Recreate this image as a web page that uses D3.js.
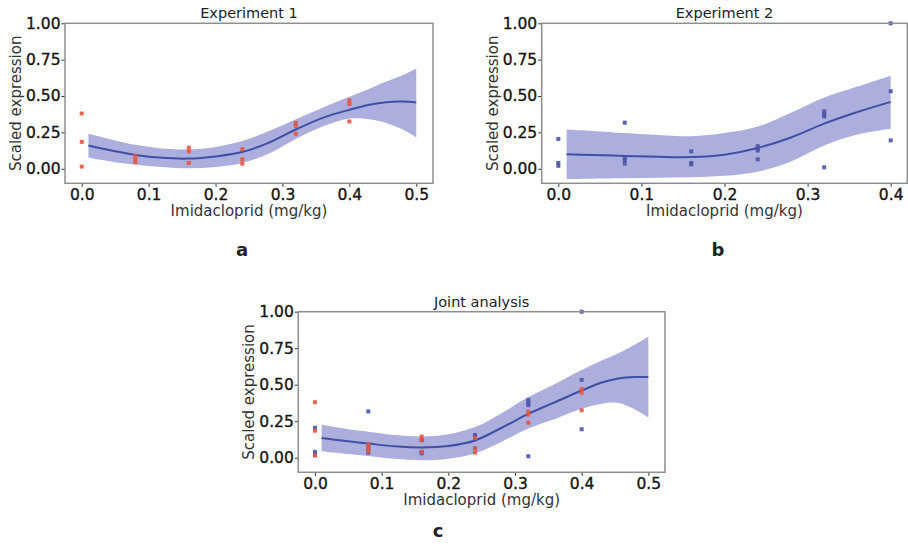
<!DOCTYPE html>
<html>
<head>
<meta charset="utf-8">
<script src="https://cdn.jsdelivr.net/npm/d3@7"></script>
<style>
  html, body { margin: 0; padding: 0; background: #fff; }
  svg { display: block; font-family: "DejaVu Sans", sans-serif; }
</style>
</head>
<body>
<svg id="chart" width="908" height="549"></svg>
<script>
// Dose levels (mg/kg) and measured expression, one list per dose
const doses = [0, 0.08, 0.16, 0.24, 0.32, 0.40];
const exp1Values = [
  [0.38, 0.185, 0.015],
  [0.09, 0.065, 0.045],
  [0.145, 0.12, 0.04],
  [0.135, 0.065, 0.035],
  [0.315, 0.295, 0.24],
  [0.47, 0.445, 0.325]
];
const exp2Values = [
  [0.205, 0.04, 0.02],
  [0.317, 0.075, 0.06, 0.035],
  [0.12, 0.04, 0.03],
  [0.155, 0.14, 0.125, 0.065],
  [0.395, 0.375, 0.36, 0.01],
  [1.0, 0.533, 0.195]
];

// Fitted curve with confidence band, Experiment 1
const fit1X     = [0.01, 0.05, 0.08, 0.12, 0.16, 0.20, 0.24, 0.28, 0.32, 0.36, 0.40, 0.43, 0.455, 0.48, 0.50];
const fit1Mean  = [0.16, 0.12, 0.095, 0.075, 0.07, 0.085, 0.115, 0.18, 0.27, 0.35, 0.405, 0.44, 0.458, 0.462, 0.455];
const fit1Lower = [0.075, 0.045, 0.03, 0.012, 0.003, 0.012, 0.04, 0.105, 0.205, 0.29, 0.345, 0.34, 0.315, 0.27, 0.215];
const fit1Upper = [0.24, 0.195, 0.165, 0.14, 0.132, 0.15, 0.19, 0.26, 0.34, 0.42, 0.495, 0.55, 0.60, 0.645, 0.69];

// Experiment 2
const fit2X     = [0.01, 0.04, 0.08, 0.12, 0.16, 0.20, 0.24, 0.28, 0.32, 0.36, 0.40];
const fit2Mean  = [0.10, 0.095, 0.088, 0.082, 0.08, 0.097, 0.143, 0.215, 0.31, 0.39, 0.46];
const fit2Lower = [-0.07, -0.068, -0.065, -0.062, -0.058, -0.048, -0.02, 0.05, 0.16, 0.235, 0.275];
const fit2Upper = [0.27, 0.26, 0.245, 0.232, 0.223, 0.245, 0.29, 0.385, 0.49, 0.565, 0.64];

// Joint analysis
const fit3X     = [0.01, 0.05, 0.08, 0.12, 0.16, 0.20, 0.24, 0.28, 0.32, 0.36, 0.40, 0.43, 0.455, 0.48, 0.50];
const fit3Mean  = [0.135, 0.112, 0.097, 0.078, 0.07, 0.08, 0.118, 0.205, 0.30, 0.38, 0.46, 0.515, 0.543, 0.553, 0.552];
const fit3Lower = [0.045, 0.025, 0.012, -0.008, -0.018, -0.008, 0.03, 0.11, 0.2, 0.265, 0.335, 0.37, 0.375, 0.33, 0.276];
const fit3Upper = [0.225, 0.195, 0.178, 0.155, 0.145, 0.16, 0.21, 0.305, 0.415, 0.505, 0.60, 0.665, 0.715, 0.775, 0.828];

const yTicks = [0, 0.25, 0.5, 0.75, 1.0];
const xTicksWide = [0, 0.1, 0.2, 0.3, 0.4, 0.5];
const xTicksNarrow = [0, 0.1, 0.2, 0.3, 0.4];

const RED = "#e5553f";
const BLUE = "#4a54a8";
const LINE = "#3f4fa3";
const BAND = "#acaedd";

const svg = d3.select("#chart");

function points(doseList, valueList) {
  const out = [];
  doseList.forEach((d, i) => valueList[i].forEach(v => out.push({ x: d, y: v })));
  return out;
}

function panel(cfg) {
  const g = svg.append("g");
  const x = d3.scaleLinear().domain(cfg.xDomain).range([cfg.left, cfg.right]);
  const y = d3.scaleLinear().domain([-0.1, 1.0]).range([cfg.bottom, cfg.top]);

  // confidence band
  const band = cfg.fitX.map((v, i) => ({ x: v, lo: cfg.lower[i], hi: cfg.upper[i], m: cfg.mean[i] }));
  g.append("path")
    .datum(band)
    .attr("fill", BAND)
    .attr("d", d3.area().x(d => x(d.x)).y0(d => y(d.lo)).y1(d => y(d.hi)).curve(d3.curveCatmullRom));

  g.append("path")
    .datum(band)
    .attr("fill", "none")
    .attr("stroke", LINE)
    .attr("stroke-width", 2)
    .attr("d", d3.line().x(d => x(d.x)).y(d => y(d.m)).curve(d3.curveCatmullRom));

  // observations
  cfg.series.forEach(s => {
    g.append("g").selectAll("rect")
      .data(points(doses, s.values))
      .join("rect")
      .attr("x", d => x(d.x) - 2)
      .attr("y", d => y(d.y) - 2)
      .attr("width", 4)
      .attr("height", 4)
      .attr("fill", s.color)
      .attr("opacity", 0.9);
  });

  // axes
  const ax = g.append("g")
    .attr("transform", `translate(0,${cfg.bottom})`)
    .call(d3.axisBottom(x).tickValues(cfg.xTicks).tickFormat(d3.format(".1f")).tickSize(3.5).tickPadding(2));
  const ay = g.append("g")
    .attr("transform", `translate(${cfg.left},0)`)
    .call(d3.axisLeft(y).tickValues(yTicks).tickFormat(d3.format(".2f")).tickSize(3.5).tickPadding(1));
  [ax, ay].forEach(a => {
    a.select(".domain").remove();
    a.selectAll(".tick line").attr("stroke", "#333");
    a.selectAll(".tick text")
      .attr("font-family", "DejaVu Sans, sans-serif")
      .attr("font-size", 15.5)
      .attr("fill", "#151515")
      .attr("stroke", "#151515")
      .attr("stroke-width", 0.35);
  });

  // frame
  g.append("rect")
    .attr("x", cfg.left).attr("y", cfg.top)
    .attr("width", cfg.right - cfg.left).attr("height", cfg.bottom - cfg.top)
    .attr("fill", "none").attr("stroke", "#8e8e8e").attr("stroke-width", 1.5);

  const cx = (cfg.left + cfg.right) / 2;
  g.append("text")
    .attr("x", cx).attr("y", cfg.top - 5)
    .attr("text-anchor", "middle").attr("font-size", 14.5).attr("fill", "#222")
    .text(cfg.title);
  g.append("text")
    .attr("x", cx).attr("y", cfg.bottom + 33)
    .attr("text-anchor", "middle").attr("font-size", 15).attr("fill", "#333")
    .text("Imidacloprid (mg/kg)");
  g.append("text")
    .attr("transform", `translate(${cfg.left - 44},${(cfg.top + cfg.bottom) / 2}) rotate(-90)`)
    .attr("text-anchor", "middle").attr("font-size", 15).attr("fill", "#333")
    .text("Scaled expression");
  g.append("text")
    .attr("x", cfg.letterX).attr("y", cfg.letterY)
    .attr("text-anchor", "middle").attr("font-size", 18).attr("font-weight", "bold").attr("fill", "#222")
    .text(cfg.letter);
}

panel({
  title: "Experiment 1", letter: "a", letterX: 242, letterY: 256,
  left: 65, right: 433, top: 23.3, bottom: 183.3,
  xDomain: [-0.025, 0.525], xTicks: xTicksWide,
  fitX: fit1X, mean: fit1Mean, lower: fit1Lower, upper: fit1Upper,
  series: [{ values: exp1Values, color: RED }]
});

panel({
  title: "Experiment 2", letter: "b", letterX: 718, letterY: 256,
  left: 541.7, right: 907.3, top: 23.3, bottom: 183.3,
  xDomain: [-0.02, 0.42], xTicks: xTicksNarrow,
  fitX: fit2X, mean: fit2Mean, lower: fit2Lower, upper: fit2Upper,
  series: [{ values: exp2Values, color: BLUE }]
});

panel({
  title: "Joint analysis", letter: "c", letterX: 438, letterY: 537,
  left: 298.3, right: 665, top: 311.7, bottom: 472.3,
  xDomain: [-0.025, 0.525], xTicks: xTicksWide,
  fitX: fit3X, mean: fit3Mean, lower: fit3Lower, upper: fit3Upper,
  series: [{ values: exp2Values, color: BLUE }, { values: exp1Values, color: RED }]
});
</script>
</body>
</html>
